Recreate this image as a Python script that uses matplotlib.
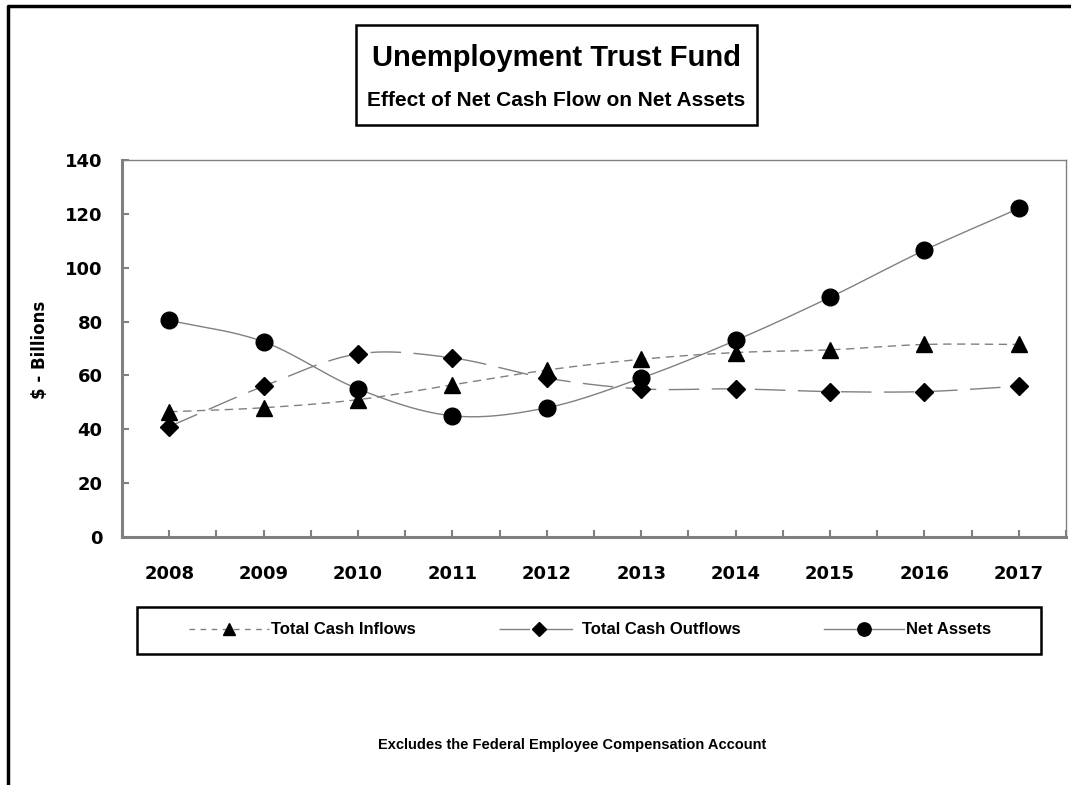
import numpy as np
from matplotlib import pyplot as plt
from matplotlib.lines import Line2D
from matplotlib.patches import Rectangle

# data
years = ["2008", "2009", "2010", "2011", "2012", "2013", "2014", "2015", "2016", "2017"]
cash_inflows = [46.5, 48, 51, 56.5, 62, 66, 68.5, 69.5, 71.5, 71.5]
cash_outflows = [41, 56, 68, 66.5, 59, 55, 55, 54, 54, 56]
net_assets = [80.5, 72.5, 55, 45, 48, 59, 73, 89, 106.5, 122]
y_ticks = [0, 20, 40, 60, 80, 100, 120, 140]

FONT = "Liberation Sans"
WIDE = "DejaVu Sans"
GRAY = "#808080"


def smooth(xs, ys, n=24):
    # Catmull-Rom style smoothing, like the spreadsheet "smoothed line"
    xs = np.asarray(xs, float)
    ys = np.asarray(ys, float)
    px = np.concatenate([[2 * xs[0] - xs[1]], xs, [2 * xs[-1] - xs[-2]]])
    py = np.concatenate([[2 * ys[0] - ys[1]], ys, [2 * ys[-1] - ys[-2]]])
    outx, outy = [], []
    t = np.linspace(0, 1, n)
    for i in range(1, len(px) - 2):
        for p, out in ((px, outx), (py, outy)):
            p0, p1, p2, p3 = p[i - 1], p[i], p[i + 1], p[i + 2]
            c1 = p1 + (p2 - p0) / 6
            c2 = p2 - (p3 - p1) / 6
            out.extend((1 - t) ** 3 * p1 + 3 * (1 - t) ** 2 * t * c1
                       + 3 * (1 - t) * t ** 2 * c2 + t ** 3 * p2)
    return np.array(outx), np.array(outy)


fig = plt.figure(figsize=(10.71, 7.85), dpi=100)
ax = fig.add_axes([122 / 1071, 1 - 537 / 785, 944 / 1071, 377 / 785])

x = np.arange(len(years))
series = [
    (cash_inflows, "^", 11, (0, (6, 4)), "Total Cash Inflows"),
    (cash_outflows, "D", 9, (0, (22, 9)), "Total Cash Outflows"),
    (net_assets, "o", 12, "-", "Net Assets"),
]
handles = []
for vals, mk, ms, ls, lab in series:
    sx, sy = smooth(x, vals)
    ax.plot(sx, sy, color=GRAY, lw=1, ls=ls, zorder=2)
    ax.plot(x, vals, ls="none", marker=mk, ms=ms, color="black", zorder=3)
    hls = (0, (4, 4)) if mk == "^" else ls
    handles.append(Line2D([], [], color=GRAY, lw=1, ls=hls, marker=mk,
                          ms=ms * 0.8, mfc="black", mec="black", label=lab))

ax.set_xlim(-0.5, len(years) - 0.5)
ax.set_ylim(0, 140)
ax.set_yticks(y_ticks)
ax.set_yticklabels([str(v) for v in y_ticks], fontsize=13, fontweight="bold",
                   fontfamily=WIDE)
half_steps = np.arange(-0.5, len(years), 0.5)
ax.set_xticks(half_steps)
ax.set_xticklabels([years[int(v)] if float(v).is_integer() else "" for v in half_steps],
                   fontsize=13, fontweight="bold", fontfamily=WIDE)
ax.tick_params(axis="both", direction="in", length=5, color=GRAY, width=1.5)
ax.tick_params(axis="x", pad=20)
ax.tick_params(axis="y", pad=14)
for side in ("top", "right"):
    ax.spines[side].set_color(GRAY)
    ax.spines[side].set_linewidth(1)
for side in ("left", "bottom"):
    ax.spines[side].set_color(GRAY)
    ax.spines[side].set_linewidth(2.2)

fig.text(40 / 1071, 1 - 350 / 785, "$ - Billions", rotation=90, ha="center",
         va="center", fontsize=12, fontweight="bold", fontfamily=WIDE)

# title box
fig.patches.append(Rectangle((356 / 1071, 1 - 125 / 785), 401 / 1071, 100 / 785,
                             transform=fig.transFigure, fill=False,
                             edgecolor="black", lw=1.8))
fig.text(556 / 1071, 1 - 58 / 785, "Unemployment Trust Fund", ha="center",
         va="center", fontsize=21, fontweight="bold", fontfamily=FONT)
fig.text(556 / 1071, 1 - 100 / 785, "Effect of Net Cash Flow on Net Assets",
         ha="center", va="center", fontsize=15, fontweight="bold", fontfamily=FONT)

# outer frame (left and top edges only visible)
fig.add_artist(Line2D([8 / 1071, 8 / 1071, 1.0], [0.0, 1 - 6 / 785, 1 - 6 / 785],
                      transform=fig.transFigure, color="black", lw=2.5))

# legend box drawn separately, entries centred inside it
fig.patches.append(Rectangle((137 / 1071, 1 - 654 / 785), 904 / 1071, 47 / 785,
                             transform=fig.transFigure, fill=False,
                             edgecolor="black", lw=1.8))
leg = fig.legend(handles=handles, loc="center", ncol=3,
                 bbox_to_anchor=(590 / 1071, 1 - 630 / 785),
                 handlelength=4.8, handletextpad=0.15, columnspacing=5.0,
                 frameon=False, borderpad=0,
                 prop={"family": FONT, "weight": "bold", "size": 12})

fig.text(572 / 1071, 1 - 745 / 785, "Excludes the Federal Employee Compensation Account",
         ha="center", va="center", fontsize=10.5, fontweight="bold", fontfamily=FONT)

fig.savefig("out.png", dpi=100)
